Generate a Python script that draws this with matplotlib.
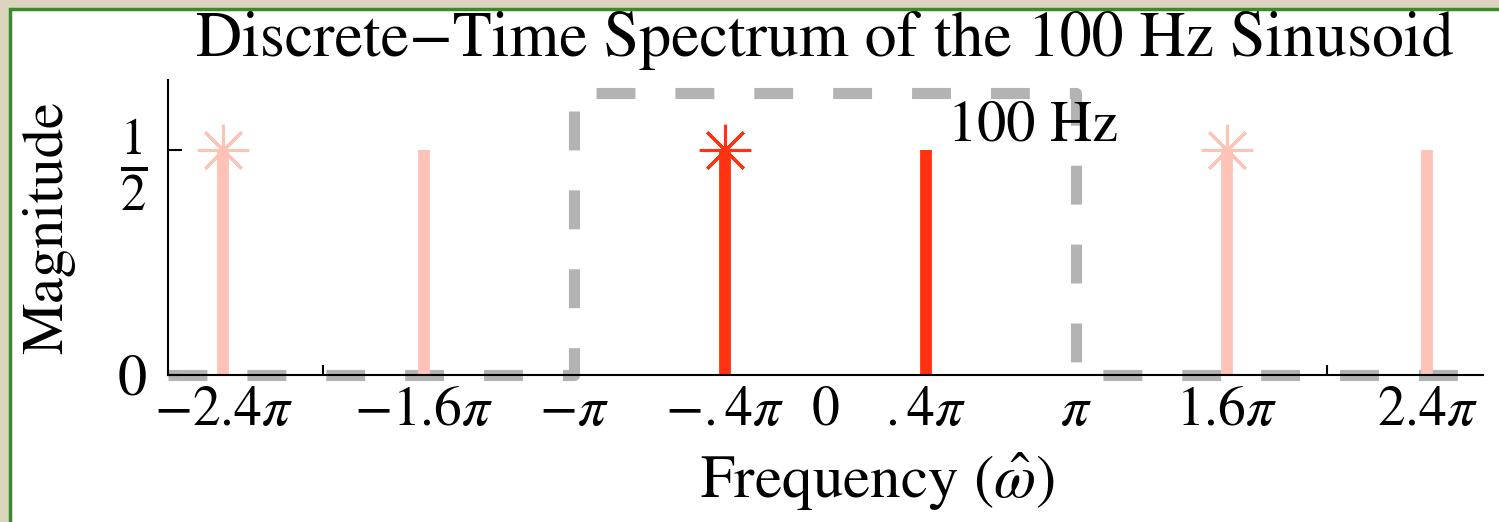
import numpy as np
import matplotlib.pyplot as plt
from matplotlib.patches import Rectangle

plt.rcParams['font.family'] = ['STIXGeneral', 'DejaVu Serif']
plt.rcParams['mathtext.fontset'] = 'stix'

# spectrum lines (frequencies in units of pi)
main_freqs = [-0.4, 0.4]
main_mags = [0.5, 0.5]
alias_freqs = [-2.4, -1.6, 1.6, 2.4]
alias_mags = [0.5, 0.5, 0.5, 0.5]
star_freqs = [-2.4, -0.4, 1.6]
star_colors = ["#FFC2B6", "#FF3311", "#FFC2B6"]

# tick labels
tick_pos = [-2.4, -1.6, -1, -0.4, 0, 0.4, 1, 1.6, 2.4]
tick_labels = [r"$-2.4\pi$", r"$-1.6\pi$", r"$-\pi$", r"$-.4\pi$", r"$0$",
               r"$.4\pi$", r"$\pi$", r"$1.6\pi$", r"$2.4\pi$"]
minor_pos = [-2, -1, 0, 1, 2]

# principal band box
band = [-1, 1]
band_height = 0.625
xmax = 2.62

red = "#FF3311"
pink = "#FFC2B6"
gray = "#B3B3B3"

fig = plt.figure(figsize=(14.99, 5.22), dpi=100)
fig.patch.set_facecolor("#DCD4BF")
panel = Rectangle((10/1499, -0.05), 1.1, 1 - 9/522 + 0.05,
                  transform=fig.transFigure, facecolor="white",
                  edgecolor="#3C8A2E", linewidth=2.5, zorder=-10)
fig.add_artist(panel)

ax = fig.add_axes([0.112, 0.282, 0.877, 0.565])
ax.set_facecolor("none")

pi = np.pi
# dashed box around the principal interval
bx = [-xmax, band[0], band[0], band[1], band[1], xmax]
by = [0, 0, band_height, band_height, 0, 0]
ax.plot(np.array(bx) * pi, by, color=gray, lw=8, dashes=(3.5, 3.6),
        solid_capstyle="butt", dash_capstyle="butt", clip_on=False, zorder=1)

ax.vlines(np.array(alias_freqs) * pi, 0, alias_mags, color=pink, lw=8.5, zorder=2)
ax.vlines(np.array(main_freqs) * pi, 0, main_mags, color=red, lw=8.5, zorder=2)
for f, c in zip(star_freqs, star_colors):
    ax.plot(f * pi, 0.5, marker=(8, 2, 0), ms=37, mew=2.2, color=c, zorder=3)

ax.text(0.49 * pi, 0.52, "100 Hz", fontsize=42, ha="left", va="baseline", zorder=4)

ax.set_xlim(-xmax * pi, xmax * pi)
ax.set_ylim(0, 0.655)
ax.spines["top"].set_visible(False)
ax.spines["right"].set_visible(False)
ax.spines["left"].set_linewidth(1.5)
ax.spines["bottom"].set_linewidth(1.5)

ax.set_xticks(np.array(tick_pos) * pi)
ax.set_xticklabels(tick_labels, fontsize=40)
ax.set_xticks(np.array(minor_pos) * pi, minor=True)
ax.tick_params(axis="x", which="major", length=0, pad=8)
ax.tick_params(axis="x", which="minor", direction="in", length=7, width=1.5)
ax.set_yticks([0, 0.5])
ylabs = ax.set_yticklabels([r"$0$", r"$\frac{1}{2}$"], fontsize=42)
ylabs[1].set_fontsize(52)
ax.tick_params(axis="y", direction="in", length=10, width=1.5, pad=15)

ax.set_title("Discrete\u2212Time Spectrum of the 100 Hz Sinusoid", fontsize=46, pad=17)
ax.set_xlabel(r"Frequency ($\hat{\omega}$)", fontsize=44, labelpad=10)
ax.xaxis.label.set_x(0.54)
ax.set_ylabel("Magnitude", fontsize=42, labelpad=30)

fig.savefig("out.png", dpi=100, facecolor=fig.get_facecolor())
